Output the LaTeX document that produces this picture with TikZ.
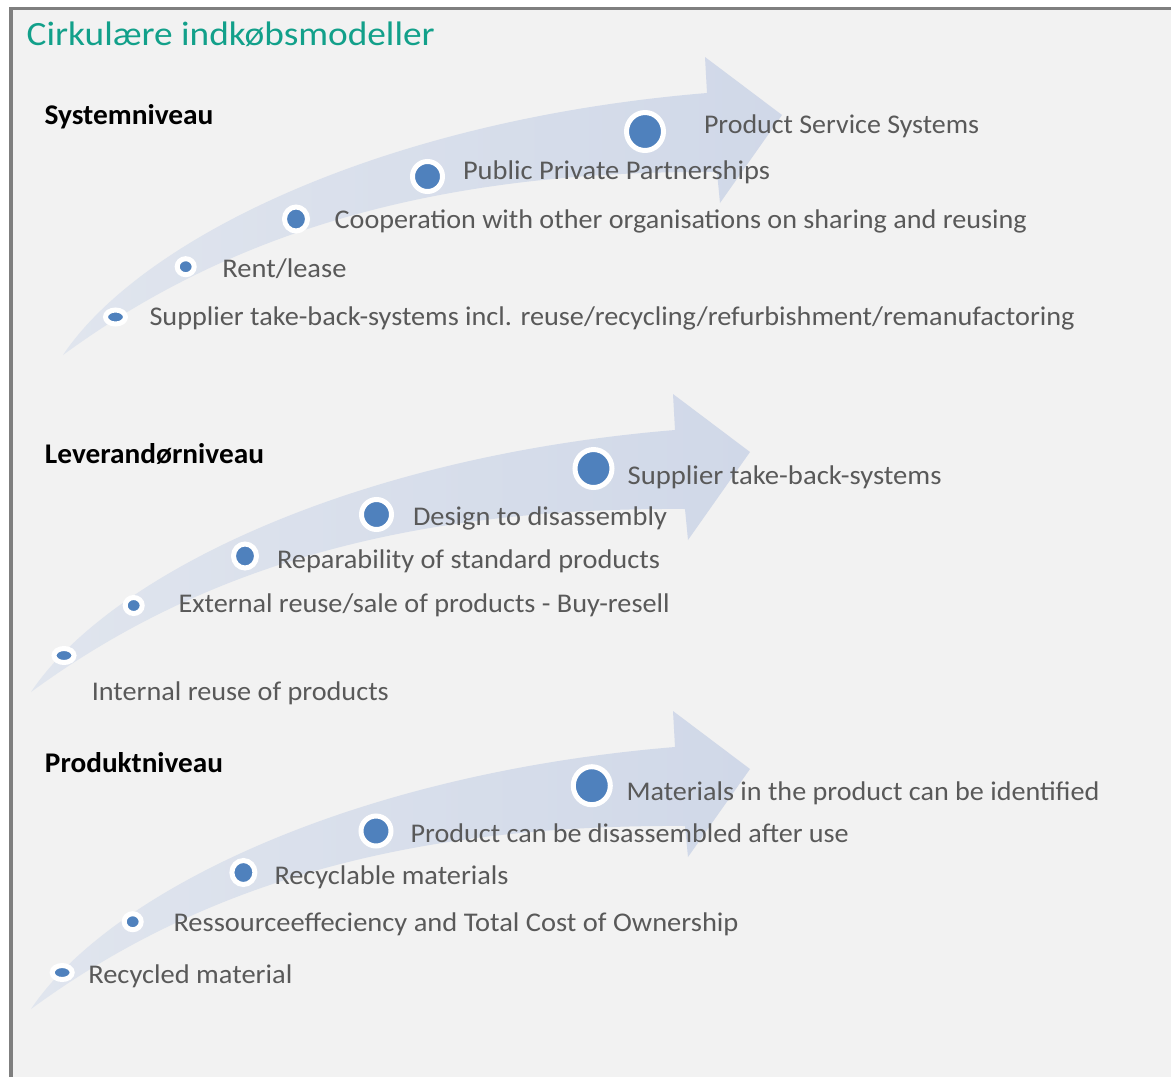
\documentclass[tikz,border=0pt]{standalone}
\usepackage{fontspec}
\setmainfont{Carlito}
\usetikzlibrary{shapes.geometric}
\definecolor{bgc}{HTML}{F2F2F2}
\definecolor{framec}{HTML}{7F7F7F}
\definecolor{titlec}{HTML}{12A08A}
\definecolor{txtc}{HTML}{595959}
\definecolor{dotc}{HTML}{4F81BD}
\definecolor{arrowc}{HTML}{D0D8E8}
\definecolor{arrowlight}{HTML}{E0E5EE}
\newcommand{\fitlbl}[2]{\resizebox{#1pt}{\height}{#2}}
\newcommand{\myarrowpath}{%
  \shade[left color=arrowlight, right color=arrowc]
    (63,355) .. controls (140,240) and (380,120) .. (707,93)
    -- (705,57) -- (782,115) -- (720,203) -- (717,172)
    .. controls (420,170) and (220,240) .. (63,355)
    -- cycle;}
\begin{document}
\begin{tikzpicture}[x=1pt,y=-1pt,
  lbl/.style={text=txtc, font=\fontsize{27}{32}\selectfont, inner sep=0pt, outer sep=0pt, anchor=base west},
  headlbl/.style={text=black, font=\fontsize{28.5}{34}\selectfont\bfseries, inner sep=0pt, outer sep=0pt, anchor=base west},
  titlelbl/.style={text=titlec, font=\fontsize{34}{40}\selectfont, inner sep=0pt, outer sep=0pt, anchor=base west},
  dotbase/.style={ellipse, fill=dotc, draw=white, line width=5pt, inner sep=0pt, outer sep=0pt},
  dA/.style={dotbase, minimum width=20pt, minimum height=14pt},
  dB/.style={dotbase, minimum width=17pt, minimum height=16pt},
  dC/.style={dotbase, minimum width=23pt, minimum height=24pt},
  dD/.style={dotbase, minimum width=30pt, minimum height=30pt},
  dE/.style={dotbase, minimum width=37pt, minimum height=38pt}]
\useasboundingbox (0,0) rectangle (1171,1077);
\fill[white] (0,0) rectangle (1171,1077);
\fill[bgc] (11,8.4) rectangle (1171,1077);
\draw[framec, line width=3.4pt] (11,1077) -- (11,8.4) -- (1171,8.4);

% title
\node[titlelbl] (title) at (26.7,45) {\fitlbl{408}{Cirkulære indkøbsmodeller}};

% ---------- Systemniveau ----------
\myarrowpath
\node[headlbl] (h1) at (44.5,124) {\fitlbl{169}{Systemniveau}};
\node[dA] (s1) at (115.5,317) {};
\node[dB] (s2) at (185.7,266.7) {};
\node[dC] (s3) at (296,219) {};
\node[dD] (s4) at (427.5,176.5) {};
\node[dE] (s5) at (645,131.5) {};
\node[lbl] (s1t) at (149.5,325.3) {\fitlbl{925}{Supplier take-back-systems incl. reuse/recycling/refurbishment/remanufactoring}};
\node[lbl] (s2t) at (222.4,277.3) {\fitlbl{124}{Rent/lease}};
\node[lbl] (s3t) at (334.7,228.3) {\fitlbl{692}{Cooperation with other organisations on sharing and reusing}};
\node[lbl] (s4t) at (463,179.8) {\fitlbl{307}{Public Private Partnerships}};
\node[lbl] (s5t) at (704,133.3) {\fitlbl{275}{Product Service Systems}};

% ---------- Leverandørniveau ----------
\begin{scope}[shift={(-32,337)}]
\myarrowpath
\end{scope}
\node[headlbl] (h2) at (45,463.3) {\fitlbl{219}{Leverandørniveau}};
\node[dA] (l1) at (64,655.5) {};
\node[dB] (l2) at (133.7,605.5) {};
\node[dC] (l3) at (245,556) {};
\node[dD] (l4) at (376.5,514.5) {};
\node[dE] (l5) at (593.5,468.5) {};
\node[lbl] (l1t) at (91.8,700.7) {\fitlbl{297}{Internal reuse of products}};
\node[lbl] (l2t) at (178.6,612.7) {\fitlbl{491}{External reuse/sale of products - Buy-resell}};
\node[lbl] (l3t) at (277,568.3) {\fitlbl{383}{Reparability of standard products}};
\node[lbl] (l4t) at (413,525.7) {\fitlbl{254}{Design to disassembly}};
\node[lbl] (l5t) at (627.6,484) {\fitlbl{314}{Supplier take-back-systems}};

% ---------- Produktniveau ----------
\begin{scope}[shift={(-32,654)}]
\myarrowpath
\end{scope}
\node[headlbl] (h3) at (45,772.3) {\fitlbl{178}{Produktniveau}};
\node[dA] (p1) at (62.2,972.5) {};
\node[dB] (p2) at (132.7,921.7) {};
\node[dC] (p3) at (243.4,872.5) {};
\node[dD] (p4) at (376,831) {};
\node[dE] (p5) at (591.8,785.7) {};
\node[lbl] (p1t) at (88.3,983.3) {\fitlbl{204}{Recycled material}};
\node[lbl] (p2t) at (173.5,931) {\fitlbl{565}{Ressourceeffeciency and Total Cost of Ownership}};
\node[lbl] (p3t) at (274.5,884.3) {\fitlbl{234}{Recyclable materials}};
\node[lbl] (p4t) at (410.7,842.7) {\fitlbl{438}{Product can be disassembled after use}};
\node[lbl] (p5t) at (626.5,800.7) {\fitlbl{473}{Materials in the product can be identified}};
\end{tikzpicture}
\end{document}
